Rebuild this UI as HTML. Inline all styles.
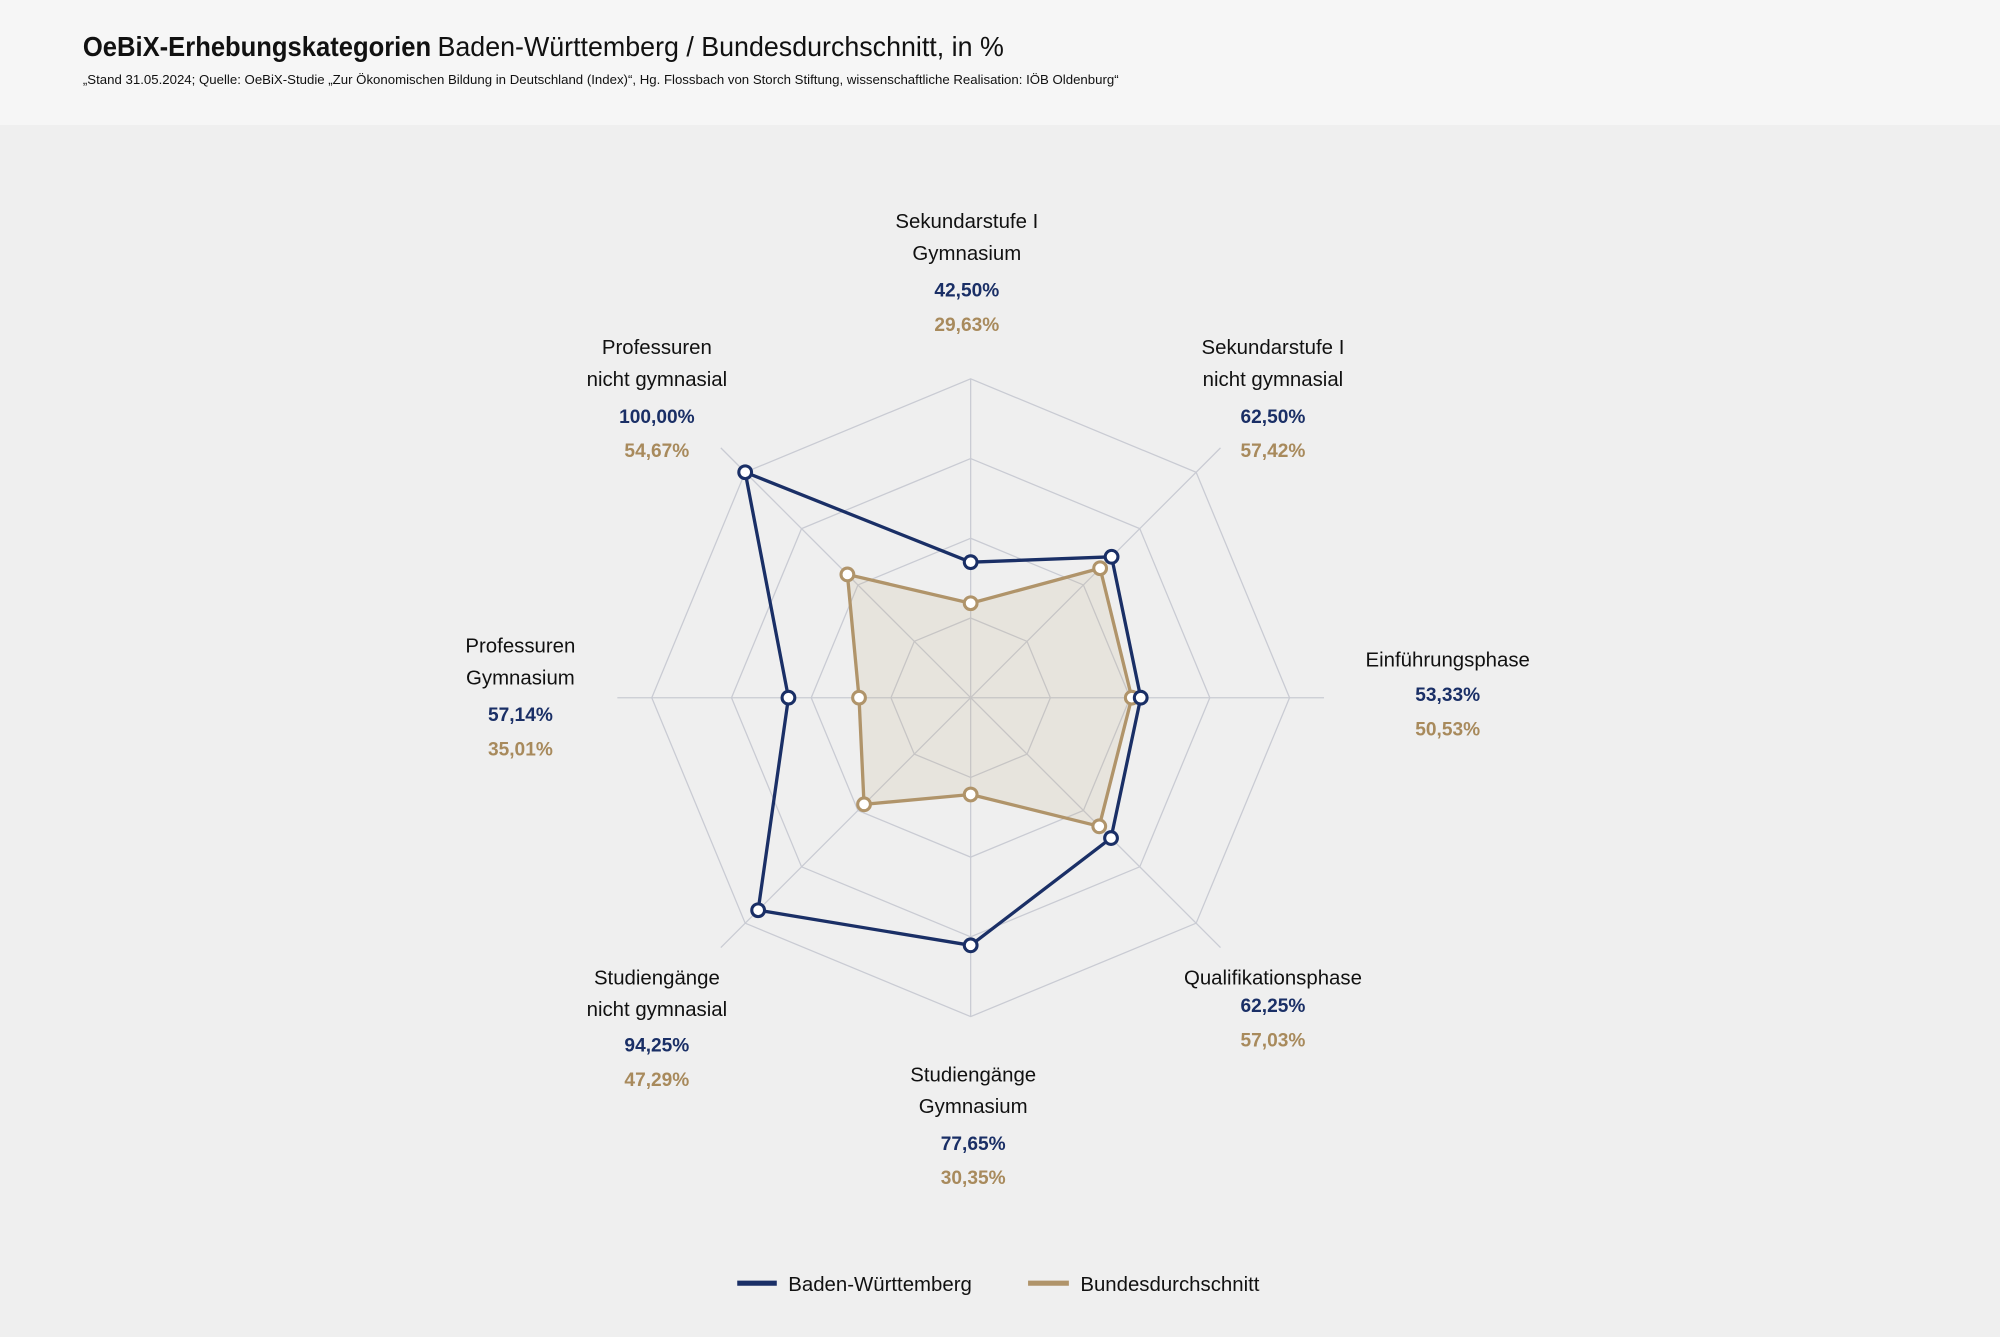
<!DOCTYPE html>
<html><head><meta charset="utf-8"><style>
html,body{margin:0;padding:0;width:2000px;height:1337px;overflow:hidden;background:#efefef}
svg{display:block}
text{font-family:"Liberation Sans Narrow","Liberation Sans",sans-serif}
</style></head><body>
<svg width="2000" height="1337" viewBox="0 0 1568 1048.2" xmlns="http://www.w3.org/2000/svg">
<rect x="0" y="0" width="1568" height="1048.2" fill="#efefef"/>
<rect x="0" y="0" width="1568" height="98" fill="#f6f6f6"/>
<text x="65" y="44" font-size="22" fill="#111"><tspan font-weight="bold" textLength="273" lengthAdjust="spacingAndGlyphs">OeBiX-Erhebungskategorien</tspan><tspan x="343" textLength="444" lengthAdjust="spacingAndGlyphs">Baden-Württemberg / Bundesdurchschnitt, in %</tspan></text>
<text x="65" y="66" font-size="10" fill="#111" textLength="812" lengthAdjust="spacingAndGlyphs">„Stand 31.05.2024; Quelle: OeBiX-Studie „Zur Ökonomischen Bildung in Deutschland (Index)“, Hg. Flossbach von Storch Stiftung, wissenschaftliche Realisation: IÖB Oldenburg“</text>
<g id="chart"></g>
<g font-size="16" text-anchor="middle" dominant-baseline="middle" transform="translate(0,1.5)">
<g fill="#111">
<text x="758" y="173">Sekundarstufe I</text><text x="758" y="198">Gymnasium</text>
<text x="998" y="272">Sekundarstufe I</text><text x="998" y="297">nicht gymnasial</text>
<text x="1135" y="517">Einführungsphase</text>
<text x="998" y="766">Qualifikationsphase</text>
<text x="763" y="842">Studiengänge</text><text x="763" y="867">Gymnasium</text>
<text x="515" y="766">Studiengänge</text><text x="515" y="791">nicht gymnasial</text>
<text x="408" y="506">Professuren</text><text x="408" y="531">Gymnasium</text>
<text x="515" y="272">Professuren</text><text x="515" y="297">nicht gymnasial</text>
</g>
<g fill="#1a2f66" font-weight="bold" font-size="15">
<text x="758" y="227">42,50%</text><text x="998" y="326">62,50%</text><text x="1135" y="544">53,33%</text><text x="998" y="788">62,25%</text>
<text x="763" y="896">77,65%</text><text x="515" y="819">94,25%</text><text x="408" y="560">57,14%</text><text x="515" y="326">100,00%</text>
</g>
<g fill="#a88a5c" font-weight="bold" font-size="15">
<text x="758" y="254">29,63%</text><text x="998" y="353">57,42%</text><text x="1135" y="571">50,53%</text><text x="998" y="815">57,03%</text>
<text x="763" y="923">30,35%</text><text x="515" y="846">47,29%</text><text x="408" y="587">35,01%</text><text x="515" y="353">54,67%</text>
</g>
</g>
<line x1="578" y1="1006" x2="609" y2="1006" stroke="#1a2f66" stroke-width="4"/>
<text x="618" y="1012" font-size="16" fill="#111">Baden-Württemberg</text>
<line x1="806" y1="1006" x2="838" y2="1006" stroke="#b0946a" stroke-width="4"/>
<text x="847" y="1012" font-size="16" fill="#111">Bundesdurchschnitt</text>
</svg>
<script>
(function(){
var g=document.getElementById('chart'),cx=761,cy=547,R=250,ns='http://www.w3.org/2000/svg';
function pt(i,r){var a=(i*45-90)*Math.PI/180;return [cx+r*Math.cos(a),cy+r*Math.sin(a)];}
function el(n,at){var e=document.createElementNS(ns,n);for(var k in at)e.setAttribute(k,at[k]);g.appendChild(e);return e;}
for(var i=0;i<8;i++){var ext=(i%4==0)?250:277;var p=pt(i,ext);el('line',{x1:cx,y1:cy,x2:p[0],y2:p[1],stroke:'#c9cbd3','stroke-width':1});}
[62.5,125,187.5,250].forEach(function(r){var s=[];for(var i=0;i<8;i++)s.push(pt(i,r).join(','));el('polygon',{points:s.join(' '),fill:'none',stroke:'#c9cbd3','stroke-width':1});});
function series(v,col,fill){var s=[];v.forEach(function(x,i){s.push(pt(i,x*2.5).join(','));});
el('polygon',{points:s.join(' '),fill:fill,stroke:col,'stroke-width':2.6,'stroke-linejoin':'round'});
v.forEach(function(x,i){var p=pt(i,x*2.5);el('circle',{cx:p[0],cy:p[1],r:5,fill:'#fff',stroke:col,'stroke-width':2.4});});}
series([29.63,57.42,50.53,57.03,30.35,47.29,35.01,54.67],'#b0946a','rgba(190,165,120,0.15)');
series([42.5,62.5,53.33,62.25,77.65,94.25,57.14,100],'#1a2f66','none');
})();
</script>
</body></html>
